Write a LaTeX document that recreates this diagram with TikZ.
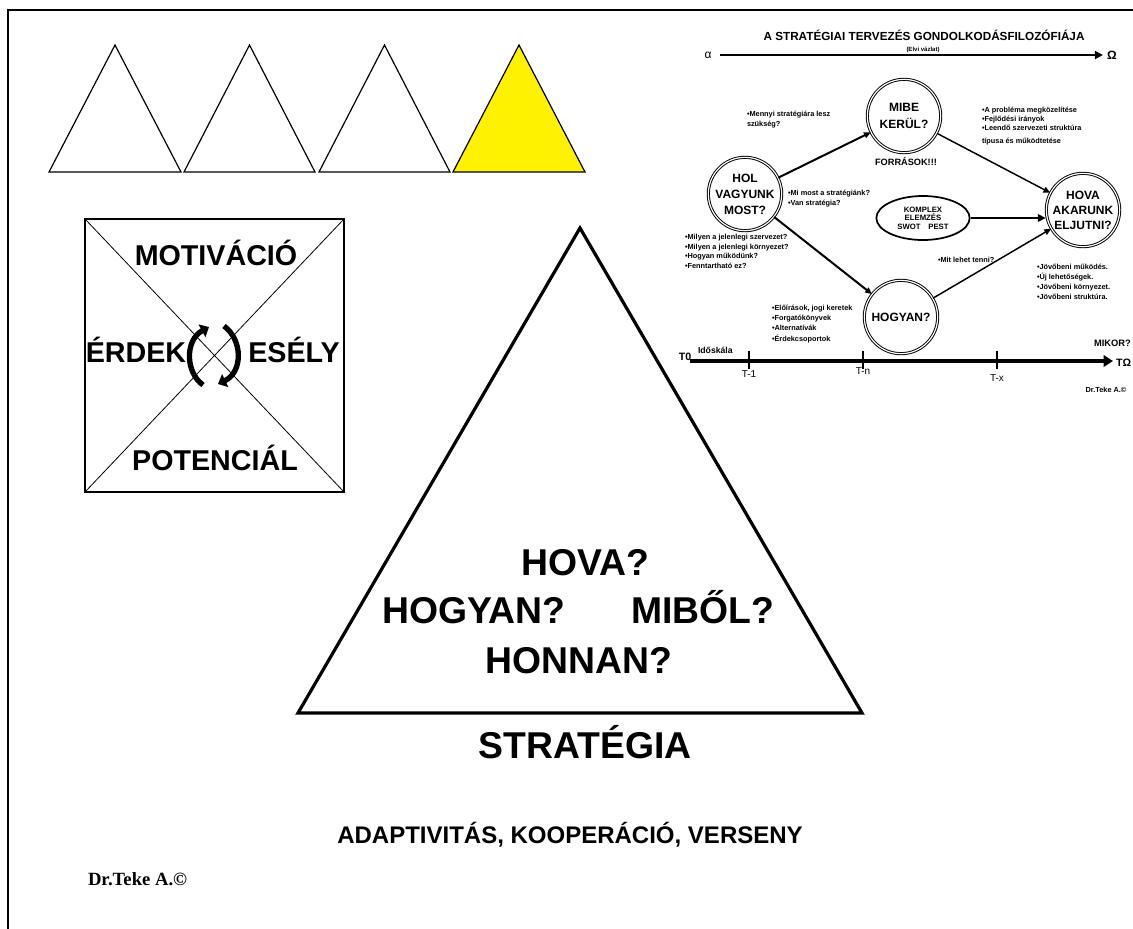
\documentclass[tikz,border=0pt]{standalone}
\usepackage{fontspec}
\setmainfont{Liberation Sans}
\newfontfamily\serifbold{Liberation Serif}
\usetikzlibrary{arrows.meta,shapes.geometric}
\newcommand\fz[2]{\fontsize{#1}{#2}\selectfont}
\begin{document}
\begin{tikzpicture}[x=0.75pt,y=-0.75pt,
  tx/.style={inner sep=0pt,outer sep=0pt,anchor=base},
  txl/.style={inner sep=0pt,outer sep=0pt,anchor=base west},
  blk/.style={inner sep=0pt,outer sep=0pt,anchor=north west,align=left,font=\bfseries\fz{5.5pt}{7.4pt}},
  circ/.style={circle,draw,double,double distance=0.9pt,line width=0.7pt,minimum size=55pt,inner sep=0pt,align=center,fill=white},
  con/.style={line width=1.1pt,-{Triangle[length=5pt,width=4.5pt]}},
  bigtxt/.style={tx,font=\bfseries\fz{28pt}{30pt}},
  sqtxt/.style={tx,font=\bfseries\fz{21.5pt}{24pt}},
  smalltri/.style={draw,line width=0.9pt,line join=miter},
  cycarrow/.style={line width=4pt,-{Triangle[length=6pt,width=10.5pt]}}
]
\useasboundingbox (0,0) rectangle (1133,929);
\fill[white] (0,0) rectangle (1133,929);
\clip (0,0) rectangle (1133,929);

% frame
\draw[line width=1.5pt] (8,929) -- (8,10) -- (1140,10);

% small triangles
\draw[smalltri] (49,172) -- (115,45) -- (181,172) -- cycle;
\draw[smalltri] (184,172) -- (249.5,45) -- (315,172) -- cycle;
\draw[smalltri] (319,172) -- (384.5,45) -- (450,172) -- cycle;
\draw[smalltri,fill=yellow] (453,172) -- (519,45) -- (585,172) -- cycle;

% square
\draw[line width=1.1pt] (85,219) rectangle (344,492);
\draw[line width=0.6pt] (85,219) -- (344,492) (344,219) -- (85,492);
\node[sqtxt] (motiv) at (216,265) {MOTIVÁCIÓ};
\node[sqtxt] (erdek) at (136,362) {ÉRDEK};
\node[sqtxt] (esely) at (294,362) {ESÉLY};
\node[sqtxt] (poten) at (215,470) {POTENCIÁL};
\draw[cycarrow] (203,385) .. controls (185,372) and (185,340) .. (209,327);
\draw[cycarrow] (224,326) .. controls (243,340) and (243,372) .. (218,384);

% big triangle
\draw[line width=2.4pt,line join=miter] (298,713) -- (580,228) -- (862,713) -- cycle;
\node[bigtxt] (hovaq) at (585,575) {HOVA?};
\node[bigtxt] (hogyanq) at (474,623) {HOGYAN?};
\node[bigtxt] (mibol) at (703,623) {MIBŐL?};
\node[bigtxt] (honnan) at (579,673) {HONNAN?};
\node[bigtxt] (strat) at (585,758) {STRATÉGIA};
\node[tx,font=\bfseries\fz{18pt}{20pt}] (adapt) at (570,843) {ADAPTIVITÁS, KOOPERÁCIÓ, VERSENY};
\node[txl,font=\serifbold\bfseries\fz{14pt}{16pt}] (teke) at (88,885) {Dr.Teke A.©};

% ---- top right diagram ----
\node[tx,font=\bfseries\fz{8.8pt}{10pt}] (title) at (924,40) {A STRATÉGIAI TERVEZÉS GONDOLKODÁSFILOZÓFIÁJA};
\node[tx,font=\bfseries\fz{4.5pt}{5pt}] (elvi) at (923,51) {(Elvi vázlat)};
\node[inner sep=0pt,font=\fz{9pt}{10pt}] (alpha) at (708,55) {α};
\node[inner sep=0pt,font=\bfseries\fz{9pt}{10pt}] (omega) at (1112,55) {Ω};
\draw[line width=2.2pt,-{Triangle[length=6pt,width=6pt]},shorten <=6pt,shorten >=3pt] (alpha.east) -- (omega.west);

\node[circ,font=\bfseries\fz{9pt}{12.5pt}] (mibe) at (904,116) {MIBE\\KERÜL?};
\node[circ,font=\bfseries\fz{9pt}{12pt}] (hol) at (745,194) {HOL\\VAGYUNK\\MOST?};
\node[circ,font=\bfseries\fz{9pt}{11.3pt}] (hova) at (1083,210) {HOVA\\AKARUNK\\ELJUTNI?};
\node[circ,font=\bfseries\fz{9pt}{11pt}] (hogyan) at (901,317) {HOGYAN?};
\node[ellipse,draw,line width=1.3pt,minimum width=70pt,minimum height=33pt,inner sep=0pt,align=center,font=\bfseries\fz{5.8pt}{6.4pt}] (kompl) at (923,218) {KOMPLEX\\ELEMZÉS\\SWOT\quad PEST};

\draw[con,line width=1.5pt] (hol) -- (mibe);
\draw[con] (mibe) -- (hova);
\draw[con,line width=1.5pt] (hol) -- (hogyan);
\draw[con] (hogyan) -- (hova);
\draw[line width=2.2pt,-{Triangle[length=6pt,width=5.5pt]}] (kompl.east) -- (kompl.east -| hova.west);

\node[tx,font=\bfseries\fz{6.9pt}{8pt}] (forr) at (906,165.5) {FORRÁSOK!!!};
\node[blk,font=\bfseries\fz{5.5pt}{7.5pt}] (menny) at (747,111) {•Mennyi stratégiára lesz\\szükség?};
\node[blk,font=\bfseries\fz{5.5pt}{6.9pt}] (probl) at (982,107) {•A probléma megközelítése\\•Fejlődési irányok\\•Leendő szervezeti struktúra\\[3pt]típusa és működtetése};
\node[blk,font=\bfseries\fz{5.5pt}{7.5pt}] (mimost) at (788,190) {•Mi most a stratégiánk?\\•Van stratégia?};
\node[blk,font=\bfseries\fz{5.5pt}{7.35pt}] (milyen) at (685,234) {•Milyen a jelenlegi szervezet?\\•Milyen a jelenlegi környezet?\\•Hogyan működünk?\\•Fenntartható ez?};
\node[txl,font=\bfseries\fz{5.5pt}{7pt}] (mit) at (938,262.5) {•Mit lehet tenni?};
\node[blk,font=\bfseries\fz{5.5pt}{7.5pt}] (jovo) at (1037,264) {•Jövőbeni működés.\\•Új lehetőségek.\\•Jövőbeni környezet.\\•Jövőbeni struktúra.};
\node[blk,font=\bfseries\fz{5.5pt}{7.7pt}] (eloir) at (772,305) {•Előírások, jogi keretek\\•Forgatókönyvek\\•Alternatívák\\•Érdekcsoportok};

% time axis
\node[inner sep=0pt,font=\bfseries\fz{8pt}{9pt}] (t0) at (685,357) {T0};
\node[txl,font=\bfseries\fz{6.5pt}{7pt}] (idosk) at (698,353) {Időskála};
\coordinate (axs) at (690,361);
\coordinate (axe) at (1113,361);
\draw[line width=3pt,-{Triangle[length=7pt,width=8.5pt]}] (axs) -- (axe);
\foreach \x in {749,863,997} \draw[line width=1.2pt] (\x,351) -- (\x,369);
\node[tx,font=\fz{7.5pt}{8pt}] (tm1) at (749,377) {T-1};
\node[tx,font=\fz{7.5pt}{8pt}] (tmn) at (863,374) {T-n};
\node[tx,font=\fz{7.5pt}{8pt}] (tmx) at (997,381) {T-x};
\node[txl,font=\bfseries\fz{7pt}{8pt}] (mikor) at (1094,346.5) {MIKOR?};
\node[txl,font=\bfseries\fz{8pt}{9pt}] (tomega) at (1116,366) {TΩ};
\node[tx,font=\bfseries\fz{5.5pt}{6pt}] (teke2) at (1106,392) {Dr.Teke A.©};
\end{tikzpicture}
\end{document}
